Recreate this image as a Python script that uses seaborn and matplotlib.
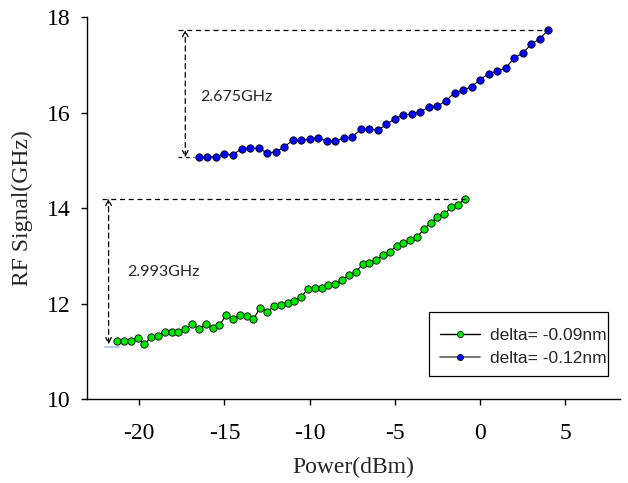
import numpy as np
import pandas as pd
import matplotlib
matplotlib.use("Agg")
import matplotlib.pyplot as plt
from matplotlib.lines import Line2D
from matplotlib.patches import Rectangle
import seaborn as sns

green_power = [-21.3, -20.9, -20.5, -20.1, -19.7, -19.3, -18.9, -18.5, -18.1, -17.7,
               -17.3, -16.9, -16.5, -16.1, -15.7, -15.3, -14.9, -14.5, -14.1, -13.7,
               -13.3, -12.9, -12.5, -12.1, -11.7, -11.3, -10.9, -10.5, -10.1, -9.7,
               -9.3, -8.9, -8.5, -8.1, -7.7, -7.3, -6.9, -6.5, -6.1, -5.7,
               -5.3, -4.9, -4.5, -4.1, -3.7, -3.3, -2.9, -2.5, -2.1, -1.7,
               -1.3, -0.9]
green_rf = [11.22, 11.23, 11.23, 11.29, 11.15, 11.31, 11.33, 11.41, 11.41, 11.41,
            11.47, 11.57, 11.47, 11.58, 11.50, 11.55, 11.76, 11.68, 11.76, 11.75,
            11.68, 11.92, 11.83, 11.95, 11.97, 12.01, 12.06, 12.14, 12.32, 12.33,
            12.34, 12.39, 12.41, 12.50, 12.60, 12.66, 12.83, 12.86, 12.92, 13.02,
            13.09, 13.21, 13.28, 13.33, 13.40, 13.56, 13.70, 13.81, 13.87, 14.02,
            14.07, 14.20]

blue_power = [-16.5, -16.0, -15.5, -15.0, -14.5, -14.0, -13.5, -13.0, -12.5, -12.0,
              -11.5, -11.0, -10.5, -10.0, -9.5, -9.0, -8.5, -8.0, -7.5, -7.0,
              -6.5, -6.0, -5.5, -5.0, -4.5, -4.0, -3.5, -3.0, -2.5, -2.0,
              -1.5, -1.0, -0.5, 0.0, 0.5, 1.0, 1.5, 2.0, 2.5, 3.0,
              3.5, 4.0]
blue_rf = [15.06, 15.07, 15.08, 15.13, 15.12, 15.24, 15.26, 15.25, 15.16, 15.17,
           15.28, 15.42, 15.42, 15.44, 15.47, 15.40, 15.41, 15.46, 15.49, 15.65,
           15.65, 15.63, 15.75, 15.87, 15.95, 15.97, 16.02, 16.11, 16.13, 16.25,
           16.41, 16.47, 16.54, 16.69, 16.81, 16.86, 16.93, 17.14, 17.24, 17.43,
           17.54, 17.73]

series_labels = ["delta= -0.09nm", "delta= -0.12nm"]
span_labels = ["2.993GHz", "2.675GHz"]
x_ticks = [-20, -15, -10, -5, 0, 5]
y_ticks = [10, 12, 14, 16, 18]

green_df = pd.DataFrame({"power": green_power, "rf": green_rf})
blue_df = pd.DataFrame({"power": blue_power, "rf": blue_rf})

sns.set_style("ticks")
plt.rcParams["font.family"] = ["Liberation Serif", "DejaVu Serif"]
plt.rcParams["axes.unicode_minus"] = False
plt.rcParams["xtick.major.size"] = 4
plt.rcParams["ytick.major.size"] = 4
plt.rcParams["xtick.color"] = "black"
plt.rcParams["ytick.color"] = "black"

fig = plt.figure(figsize=(6.28, 4.83), dpi=100)
ax = fig.add_axes([0.139, 0.173, 0.848, 0.792])

GREEN = "#00e600"
BLUE = "#0000ff"

sns.lineplot(data=green_df, x="power", y="rf", ax=ax, color="black", lw=0.8,
             marker="o", markersize=5.3, markerfacecolor=GREEN,
             markeredgecolor="black", markeredgewidth=0.6, legend=False)
sns.lineplot(data=blue_df, x="power", y="rf", ax=ax, color="black", lw=0.8,
             marker="o", markersize=5.3, markerfacecolor=BLUE,
             markeredgecolor="black", markeredgewidth=0.6, legend=False)

# frequency span markers
def span(ax, x_arrow, xs, ys, label, tx, ty):
    lo, hi = min(ys), max(ys)
    ax.annotate("", xy=(x_arrow, hi), xytext=(x_arrow, lo),
                arrowprops=dict(arrowstyle="<->", color="black", lw=0.9,
                                linestyle=(0, (4, 3)), shrinkA=0, shrinkB=0,
                                mutation_scale=10))
    ax.plot([x_arrow - 0.4, xs[-1]], [hi, hi], color="black", lw=0.9,
            linestyle=(0, (4, 3)))
    ax.text(tx, ty, label, fontsize=11.5, family=["Lato", "DejaVu Sans"],
            va="center", ha="left")
    return lo

lo_g = span(ax, -21.8, green_power, green_rf, span_labels[0], -20.7, 12.67)
ax.plot([-22.0, -21.2], [lo_g - 0.05, lo_g - 0.05], color="#9dc3e6", lw=1.2)
lo_b = span(ax, -17.3, blue_power, blue_rf, span_labels[1], -16.45, 16.33)
ax.plot([-17.7, -16.8], [lo_b, lo_b], color="black", lw=0.9, linestyle=(0, (3, 3)))

ax.set_xlim(-23.05, 8.2)
ax.set_ylim(10, 18)
ax.set_xticks(x_ticks)
ax.set_yticks(y_ticks)
ax.tick_params(labelsize=17, width=1)
ax.tick_params(axis="x", pad=13)
ax.tick_params(axis="y", pad=8)
ax.set_xlabel("Power(dBm)", fontsize=17, labelpad=9)
ax.set_ylabel("RF Signal(GHz)", fontsize=17, labelpad=10)
sns.despine(ax=ax)
for s in ["left", "bottom"]:
    ax.spines[s].set_linewidth(1)
    ax.spines[s].set_color("black")

# legend: frame drawn separately so the text can sit tight to its right edge
ax.add_patch(Rectangle((0.6415, 0.062), 0.336, 0.167, transform=ax.transAxes,
                       facecolor="white", edgecolor="black", lw=0.9,
                       zorder=4, clip_on=False))
handles = [
    Line2D([], [], color="black", lw=1, marker="o", markersize=4.5,
           markerfacecolor=GREEN, markeredgecolor="black", markeredgewidth=0.5),
    Line2D([], [], color="#606060", lw=1.2, marker="o", markersize=4.5,
           markerfacecolor=BLUE, markeredgecolor="black", markeredgewidth=0.5),
]
leg = ax.legend(handles, series_labels, loc="upper left",
                bbox_to_anchor=(0.662, 0.1865), borderaxespad=0, borderpad=0,
                prop={"family": ["Liberation Sans", "DejaVu Sans"], "size": 12.5},
                frameon=False, handlelength=2.3, handletextpad=0.6,
                labelspacing=0.43)
leg.set_zorder(5)

fig.savefig("out.png", dpi=100)
